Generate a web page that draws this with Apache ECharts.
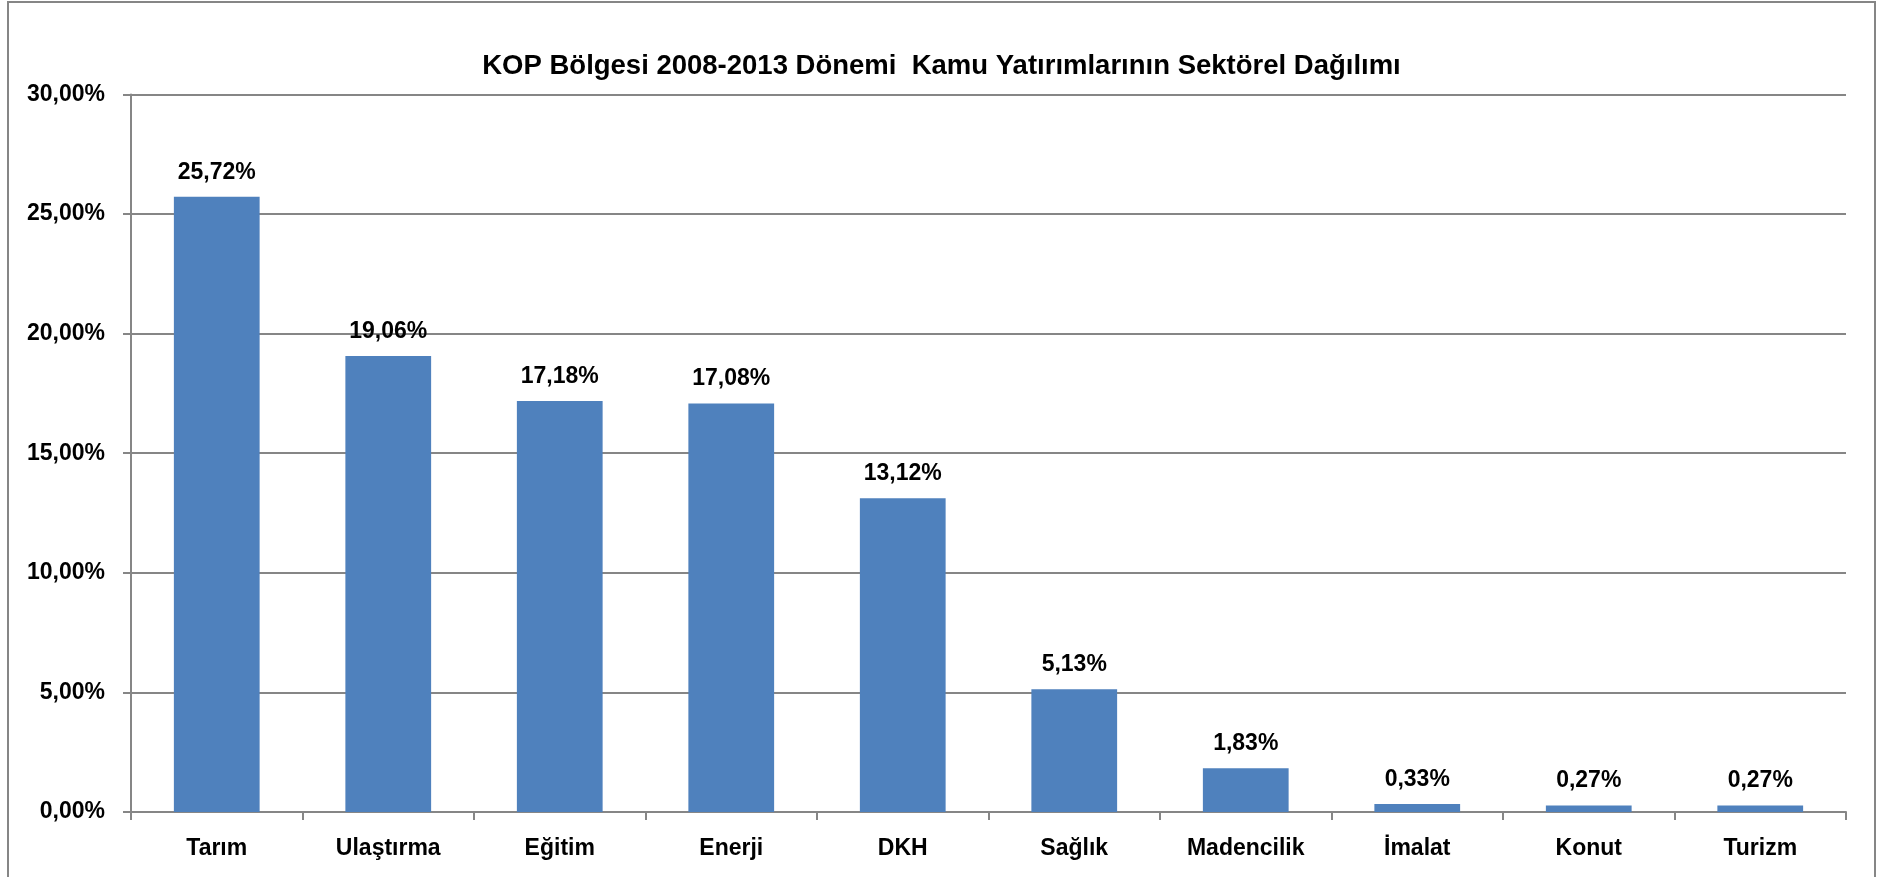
<!DOCTYPE html>
<html>
<head>
<meta charset="utf-8">
<title>KOP Bölgesi Kamu Yatırımları</title>
<script src="https://cdn.jsdelivr.net/npm/echarts@6/dist/echarts.min.js"></script>
<style>
  html, body { margin: 0; padding: 0; background: #fff; }
  #main { width: 1883px; height: 877px; }
</style>
</head>
<body>
<div id="main"></div>
<script>
var sectors = ['Tarım', 'Ulaştırma', 'Eğitim', 'Enerji', 'DKH', 'Sağlık', 'Madencilik', 'İmalat', 'Konut', 'Turizm'];
var shares = [25.72, 19.06, 17.18, 17.08, 13.12, 5.13, 1.83, 0.33, 0.27, 0.27];
var yTicks = [0, 5, 10, 15, 20, 25, 30];

function pct(v) {
  return v.toFixed(2).replace('.', ',') + '%';
}

var FONT = '"Liberation Sans", Arial, sans-serif';
var GRAY = '#868686';

var chart = echarts.init(document.getElementById('main'));
var option = {
    animation: false,
    backgroundColor: '#fff',
    title: {
        text: 'KOP Bölgesi 2008-2013 Dönemi  Kamu Yatırımlarının Sektörel Dağılımı',
        left: 'center',
        top: 47,
        textStyle: {
          fontFamily: FONT,
          fontSize: 27.5,
          fontWeight: 'bold',
          color: '#000'
        }
    },
    graphic: [
        {
          type: 'rect',
          shape: { x: 8, y: 2, width: 1867, height: 900 },
          style: { fill: 'none', stroke: GRAY, lineWidth: 2 },
          silent: true
        }
    ],
    grid: {
        left: 131,
        right: 37,
        top: 94.4,
        bottom: 65,
        containLabel: false
    },
    xAxis: {
        type: 'category',
        data: sectors,
        axisLine: { lineStyle: { color: GRAY, width: 2 } },
        axisTick: { show: true, length: 8, lineStyle: { color: GRAY, width: 2 } },
        axisLabel: {
          margin: 25,
          fontFamily: FONT,
          fontSize: 23,
          fontWeight: 'bold',
          color: '#000'
        }
    },
    yAxis: {
        type: 'value',
        min: yTicks[0],
        max: yTicks[yTicks.length - 1],
        interval: 5,
        axisLine: { show: true, lineStyle: { color: GRAY, width: 2 } },
        axisTick: { show: true, length: 8, lineStyle: { color: GRAY, width: 2 } },
        splitLine: { lineStyle: { color: GRAY, width: 2 } },
        axisLabel: {
          margin: 26,
          fontFamily: FONT,
          fontSize: 23,
          fontWeight: 'bold',
          color: '#000',
          formatter: function (v) { return pct(v); }
        }
    },
    series: [
        {
          name: 'Pay',
          type: 'bar',
          data: shares,
          barWidth: '50%',
          itemStyle: { color: '#4F81BD' },
          label: {
            show: true,
            position: 'top',
            distance: 13,
            fontFamily: FONT,
            fontSize: 23,
            fontWeight: 'bold',
            color: '#000',
            formatter: function (p) { return pct(p.value); }
          }
        }
    ]
};

chart.setOption(option);
</script>
</body>
</html>
